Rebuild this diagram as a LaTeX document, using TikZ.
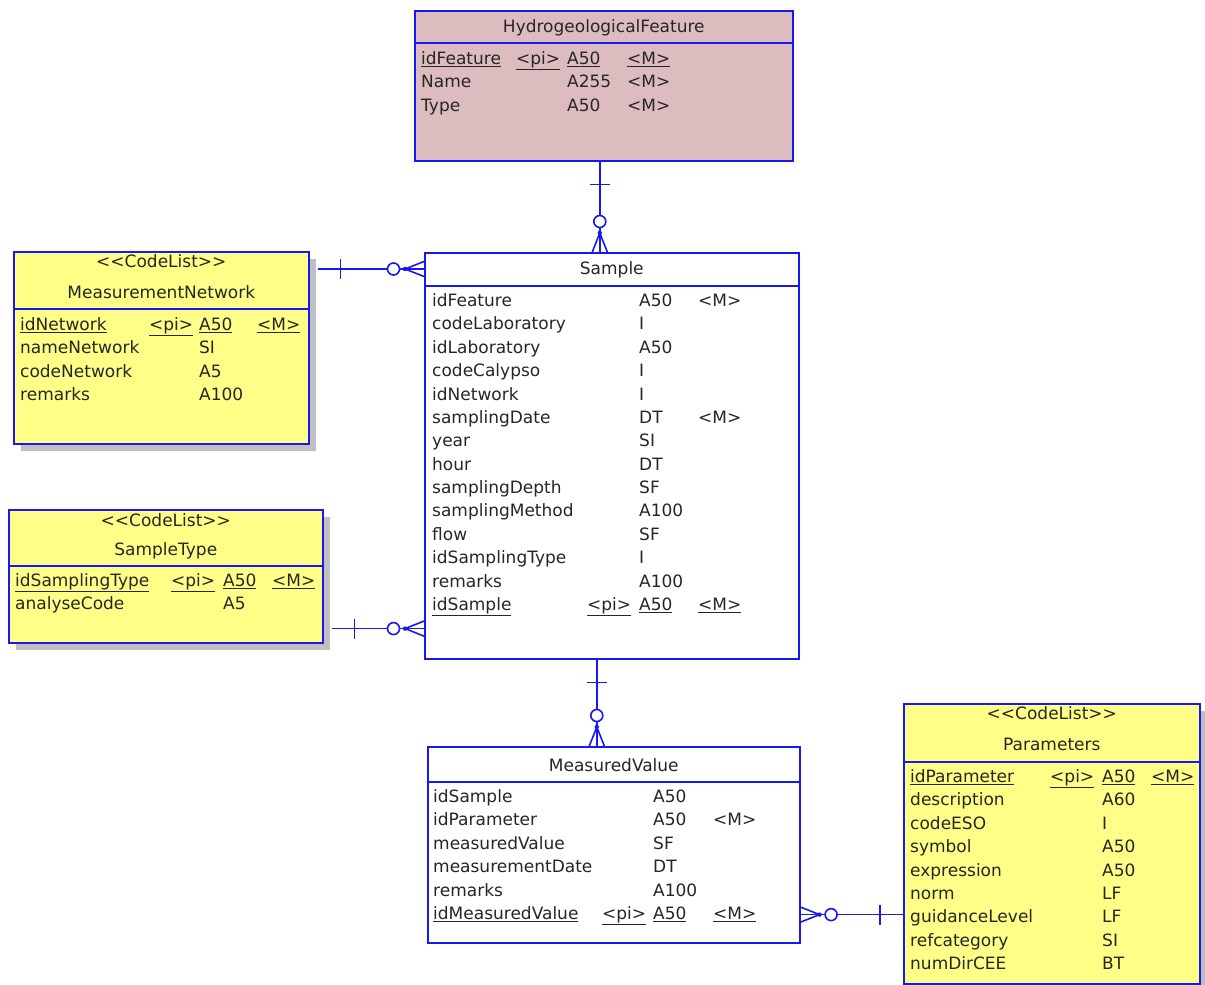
\documentclass[tikz,border=0pt]{standalone}
\usepackage{fontspec}
\newfontfamily\erfont{DejaVu Sans}
\usetikzlibrary{calc, shadows}
\definecolor{erblue}{RGB}{24,24,240}
\definecolor{featpink}{RGB}{221,188,191}
\definecolor{codeyellow}{RGB}{255,255,136}
\definecolor{shadowgrey}{RGB}{192,192,192}
\tikzset{
    entity/.style={draw=erblue, line width=1.6pt, anchor=north west, inner sep=0pt},
    codelist/.style={entity, fill=codeyellow, drop shadow={shadow xshift=7pt, shadow yshift=-7pt, fill=shadowgrey, opacity=1}},
    sepline/.style={draw=erblue, line width=1.6pt},
    etitle/.style={anchor=base, inner sep=0pt, font=\erfont\fontsize{17}{20}\selectfont, text=black!85},
    attr/.style={anchor=base west, inner sep=0pt, font=\erfont\fontsize{17}{20}\selectfont, text=black!85},
    rel/.style={draw=erblue, line width=1.6pt},
    pics/zeromany/.style={code={
        \draw[rel] (0,7.5) -- (19,0) -- (0,-7.5);
        \fill[erblue] (19,0) circle (2.2pt);
        \draw[rel, fill=white] (30.5,0) circle (6pt);
    }},
    pics/onebar/.style={code={
        \draw[rel] (23,-10) -- (23,10);
    }},
}

\begin{document}
\begin{tikzpicture}[x=1pt, y=-1pt]
    \useasboundingbox (0,0) rectangle (1205,985);

    % HydrogeologicalFeature
    \node[entity, fill=featpink, minimum width=378pt, minimum height=150pt] (hf) at (414,10) {};
    \node[etitle] (hftitle) at (hf.north |- 0,32) {HydrogeologicalFeature};
    \draw[sepline] (hf.west |- 0,43) -- (hf.east |- 0,43);
    \node[attr] (hfk) at (421,64.5) {\underline{idFeature}};
    \node[attr] at (516,64.5) {\underline{<pi>}};
    \node[attr] at (567,64.5) {\underline{A50}};
    \node[attr] at (627,64.5) {\underline{<M>}};
    \foreach \fname/\ftype/\fmand [count=\i] in {Name/A255/{<M>}, Type/A50/{<M>}} {
        \node[attr] at (421,{64.5+\i*23.4}) {\fname};
        \node[attr] at (567,{64.5+\i*23.4}) {\ftype};
        \node[attr] at (627,{64.5+\i*23.4}) {\fmand};
    }

    % Sample
    \node[entity, fill=white, minimum width=374pt, minimum height=406pt] (sample) at (424,252) {};
    \node[etitle] (smptitle) at (sample.north |- 0,274) {Sample};
    \draw[sepline] (sample.west |- 0,286) -- (sample.east |- 0,286);
    \foreach \fname/\ftype/\fmand [count=\i from 0] in {idFeature/A50/{<M>}, codeLaboratory/I/{}, idLaboratory/A50/{}, codeCalypso/I/{}, idNetwork/I/{}, samplingDate/DT/{<M>}, year/SI/{}, hour/DT/{}, samplingDepth/SF/{}, samplingMethod/A100/{}, flow/SF/{}, idSamplingType/I/{}, remarks/A100/{}} {
        \node[attr] at (432,{306.5+\i*23.38}) {\fname};
        \node[attr] at (639,{306.5+\i*23.38}) {\ftype};
        \node[attr] at (698,{306.5+\i*23.38}) {\fmand};
    }
    \node[attr] (smpk) at (432,610.4) {\underline{idSample}};
    \node[attr] at (587,610.4) {\underline{<pi>}};
    \node[attr] at (639,610.4) {\underline{A50}};
    \node[attr] at (698,610.4) {\underline{<M>}};

    % MeasurementNetwork
    \node[codelist, minimum width=295pt, minimum height=192pt] (mn) at (13,251) {};
    \node[etitle] (mnstereo) at (mn.north |- 0,267) {<<CodeList>>};
    \node[etitle] (mntitle) at (mn.north |- 0,298) {MeasurementNetwork};
    \draw[sepline] (mn.west |- 0,309) -- (mn.east |- 0,309);
    \node[attr] (mnk) at (20,330.5) {\underline{idNetwork}};
    \node[attr] at (149,330.5) {\underline{<pi>}};
    \node[attr] at (199,330.5) {\underline{A50}};
    \node[attr] at (257,330.5) {\underline{<M>}};
    \foreach \fname/\ftype [count=\i] in {nameNetwork/SI, codeNetwork/A5, remarks/A100} {
        \node[attr] at (20,{330.5+\i*23.3}) {\fname};
        \node[attr] at (199,{330.5+\i*23.3}) {\ftype};
    }

    % SampleType
    \node[codelist, minimum width=314pt, minimum height=133pt] (st) at (8,509) {};
    \node[etitle] (ststereo) at (st.north |- 0,526) {<<CodeList>>};
    \node[etitle] (sttitle) at (st.north |- 0,555) {SampleType};
    \draw[sepline] (st.west |- 0,566) -- (st.east |- 0,566);
    \node[attr] (stk) at (15,586.5) {\underline{idSamplingType}};
    \node[attr] at (171,586.5) {\underline{<pi>}};
    \node[attr] at (223,586.5) {\underline{A50}};
    \node[attr] at (272,586.5) {\underline{<M>}};
    \node[attr] at (15,609.9) {analyseCode};
    \node[attr] at (223,609.9) {A5};

    % MeasuredValue
    \node[entity, fill=white, minimum width=372pt, minimum height=196pt] (mv) at (427,746) {};
    \node[etitle] (mvtitle) at (mv.north |- 0,771) {MeasuredValue};
    \draw[sepline] (mv.west |- 0,782) -- (mv.east |- 0,782);
    \foreach \fname/\ftype/\fmand [count=\i from 0] in {idSample/A50/{}, idParameter/A50/{<M>}, measuredValue/SF/{}, measurementDate/DT/{}, remarks/A100/{}} {
        \node[attr] at (433,{802.5+\i*23.4}) {\fname};
        \node[attr] at (653,{802.5+\i*23.4}) {\ftype};
        \node[attr] at (713,{802.5+\i*23.4}) {\fmand};
    }
    \node[attr] (mvk) at (433,919.5) {\underline{idMeasuredValue}};
    \node[attr] at (602,919.5) {\underline{<pi>}};
    \node[attr] at (653,919.5) {\underline{A50}};
    \node[attr] at (713,919.5) {\underline{<M>}};

    % Parameters
    \node[codelist, minimum width=296pt, minimum height=280pt] (param) at (903,703) {};
    \node[etitle] (parstereo) at (param.north |- 0,719) {<<CodeList>>};
    \node[etitle] (partitle) at (param.north |- 0,750) {Parameters};
    \draw[sepline] (param.west |- 0,762) -- (param.east |- 0,762);
    \node[attr] (park) at (910,782.5) {\underline{idParameter}};
    \node[attr] at (1050,782.5) {\underline{<pi>}};
    \node[attr] at (1102,782.5) {\underline{A50}};
    \node[attr] at (1151,782.5) {\underline{<M>}};
    \foreach \fname/\ftype [count=\i] in {description/A60, codeESO/I, symbol/A50, expression/A50, norm/LF, guidanceLevel/LF, refcategory/SI, numDirCEE/BT} {
        \node[attr] at (910,{782.5+\i*23.375}) {\fname};
        \node[attr] at (1102,{782.5+\i*23.375}) {\ftype};
    }

    % relationships
    \draw[rel] ([xshift=-4pt]hf.south) coordinate (hfrel) -- (hfrel |- sample.north) coordinate (smptop);
    \pic[rotate=-90] at (hfrel) {onebar};
    \pic[rotate=90] at (smptop) {zeromany};

    \draw[rel] ([shift={(8,18)}]mn.north east) coordinate (mnrel) -- (mnrel -| sample.west) coordinate (smpmn);
    \pic at (mnrel) {onebar};
    \pic[rotate=180] at (smpmn) {zeromany};

    \draw[rel] ([shift={(8,-15)}]st.south east) coordinate (strel) -- (strel -| sample.west) coordinate (smpst);
    \pic at (strel) {onebar};
    \pic[rotate=180] at (smpst) {zeromany};

    \draw[rel] ([xshift=-15pt]sample.south) coordinate (smprel) -- (smprel |- mv.north) coordinate (mvtop);
    \pic[rotate=-90] at (smprel) {onebar};
    \pic[rotate=90] at (mvtop) {zeromany};

    \draw[rel] ([shift={(0,-29)}]mv.south east) coordinate (mvrel) -- (mvrel -| param.west) coordinate (parrel);
    \pic at (mvrel) {zeromany};
    \pic[rotate=180] at (parrel) {onebar};
\end{tikzpicture}
\end{document}
